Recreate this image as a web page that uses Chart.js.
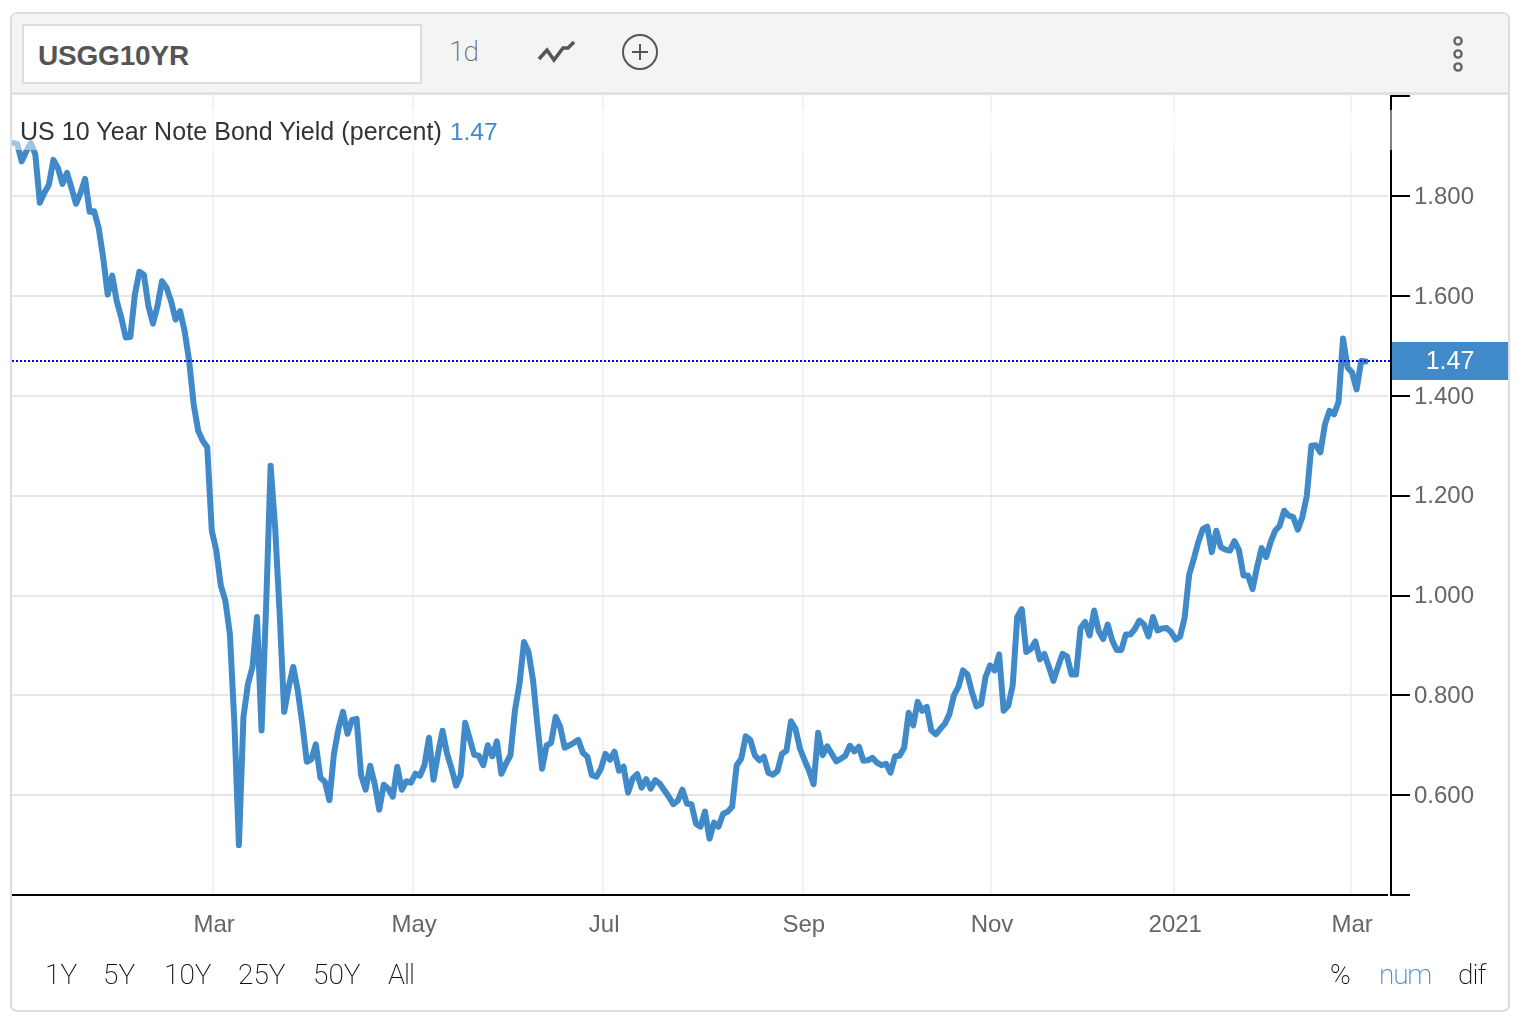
<!DOCTYPE html>
<html>
<head>
<meta charset="utf-8">
<title>USGG10YR</title>
<script src="https://cdn.jsdelivr.net/npm/chart.js@4/dist/chart.umd.min.js"></script>
<style>
html, body { margin: 0; padding: 0; background: #fff; width: 1518px; height: 1018px; overflow: hidden; }
body { font-family: "Liberation Sans", sans-serif; position: relative; }
#myChart { position: absolute; left: 0; top: 0; }
#card { position: absolute; left: 10px; top: 12px; width: 1496px; height: 996px; border: 2px solid #ddd; border-radius: 7px; }
#toolbar { position: absolute; left: 12px; top: 14px; width: 1496px; height: 78px; background: #f4f4f4; border-bottom: 3px solid #e2e2e2; border-radius: 6px 6px 0 0; }
#symbol { position: absolute; left: 22px; top: 24px; width: 396px; height: 56px; background: #fff; border: 2px solid #ddd; font-size: 28px; font-weight: bold; color: #555; line-height: 60px; text-indent: 14px; letter-spacing: -0.2px; }
.txt { position: absolute; white-space: nowrap; line-height: 1; }
.thin { font-family: Roboto, "Liberation Sans", sans-serif; font-weight: 200; font-size: 28px; color: #111; }
#legend { left: 20px; top: 119px; font-size: 25px; letter-spacing: 0.06px; color: #333; }
#legend span { color: #418ac9; font-size: 24.5px; letter-spacing: 0; margin-left: 1px; }
svg { position: absolute; left: 0; top: 0; }
</style>
</head>
<body>
<canvas id="myChart" width="1518" height="1018"></canvas>
<div id="card"></div>
<div id="toolbar"></div>
<div id="symbol">USGG10YR</div>
<div class="txt thin" style="left:449px;top:38px;color:#666;letter-spacing:-1px">1d</div>
<svg width="1518" height="1018">
  <polyline points="539,59 547,50 554,60 563,48 568,48 574,42" fill="none" stroke="#555" stroke-width="3.5"/>
  <circle cx="640" cy="52" r="17" fill="none" stroke="#555" stroke-width="2"/>
  <path d="M632 52H648M640 44V60" stroke="#555" stroke-width="2"/>
  <circle cx="1458" cy="41" r="3.6" fill="none" stroke="#666" stroke-width="2.4"/>
  <circle cx="1458" cy="54" r="3.6" fill="none" stroke="#666" stroke-width="2.4"/>
  <circle cx="1458" cy="67" r="3.6" fill="none" stroke="#666" stroke-width="2.4"/>
</svg>
<div class="txt" id="legend">US 10 Year Note Bond Yield (percent) <span>1.47</span></div>
<div class="txt thin" style="left:45px;top:961px">1Y</div>
<div class="txt thin" style="left:103px;top:961px">5Y</div>
<div class="txt thin" style="left:164px;top:961px">10Y</div>
<div class="txt thin" style="left:238px;top:961px">25Y</div>
<div class="txt thin" style="left:313px;top:961px">50Y</div>
<div class="txt thin" style="left:388px;top:961px;letter-spacing:-1px">All</div>
<div class="txt thin" style="left:1330px;top:961px">%</div>
<div class="txt thin" style="left:1379px;top:961px;color:#418ac9;letter-spacing:-1.2px">num</div>
<div class="txt thin" style="left:1458px;top:961px;letter-spacing:-1px">dif</div>

<script>
// daily yield, one value per trading session
const yields = [
    1.907, 1.905, 1.870, 1.890, 1.907, 1.884, 1.787, 1.807, 1.823, 1.873,
    1.857, 1.825, 1.847, 1.817, 1.785, 1.807, 1.835, 1.769, 1.770, 1.737,
    1.677, 1.603, 1.641, 1.590, 1.557, 1.517, 1.518, 1.603, 1.649, 1.643,
    1.580, 1.545, 1.580, 1.630, 1.617, 1.590, 1.553, 1.570, 1.530, 1.470,
    1.383, 1.330, 1.310, 1.297, 1.130, 1.090, 1.020, 0.990, 0.923, 0.744,
    0.500, 0.757, 0.823, 0.857, 0.957, 0.730, 0.977, 1.260, 1.137, 0.964,
    0.767, 0.817, 0.857, 0.810, 0.744, 0.667, 0.672, 0.702, 0.635, 0.627,
    0.590, 0.683, 0.733, 0.767, 0.723, 0.751, 0.753, 0.640, 0.611, 0.659,
    0.623, 0.571, 0.621, 0.613, 0.597, 0.657, 0.611, 0.628, 0.625, 0.643,
    0.639, 0.660, 0.715, 0.631, 0.683, 0.729, 0.683, 0.653, 0.619, 0.640,
    0.745, 0.713, 0.681, 0.679, 0.660, 0.700, 0.678, 0.708, 0.643, 0.663,
    0.680, 0.770, 0.823, 0.907, 0.887, 0.830, 0.737, 0.653, 0.700, 0.705,
    0.757, 0.737, 0.695, 0.700, 0.705, 0.711, 0.685, 0.677, 0.640, 0.637,
    0.653, 0.683, 0.671, 0.687, 0.649, 0.657, 0.605, 0.633, 0.642, 0.615,
    0.632, 0.613, 0.630, 0.623, 0.610, 0.597, 0.582, 0.589, 0.611, 0.583,
    0.582, 0.543, 0.537, 0.567, 0.513, 0.545, 0.537, 0.563, 0.567, 0.577,
    0.660, 0.673, 0.718, 0.711, 0.680, 0.670, 0.677, 0.645, 0.641, 0.648,
    0.683, 0.689, 0.748, 0.733, 0.693, 0.670, 0.649, 0.622, 0.725, 0.680,
    0.698, 0.683, 0.668, 0.673, 0.679, 0.699, 0.688, 0.697, 0.669, 0.670,
    0.675, 0.665, 0.660, 0.663, 0.645, 0.678, 0.679, 0.695, 0.765, 0.740,
    0.787, 0.769, 0.777, 0.730, 0.722, 0.733, 0.743, 0.762, 0.800, 0.817,
    0.850, 0.842, 0.806, 0.778, 0.782, 0.837, 0.860, 0.850, 0.882, 0.769,
    0.779, 0.820, 0.957, 0.973, 0.887, 0.893, 0.908, 0.872, 0.883, 0.857,
    0.829, 0.857, 0.883, 0.878, 0.842, 0.842, 0.935, 0.947, 0.920, 0.970,
    0.929, 0.913, 0.942, 0.910, 0.891, 0.891, 0.922, 0.922, 0.933, 0.950,
    0.942, 0.918, 0.957, 0.930, 0.934, 0.935, 0.927, 0.912, 0.918, 0.956,
    1.042, 1.073, 1.107, 1.133, 1.138, 1.087, 1.130, 1.097, 1.092, 1.090,
    1.109, 1.091, 1.040, 1.040, 1.013, 1.057, 1.095, 1.077, 1.107, 1.130,
    1.140, 1.170, 1.160, 1.157, 1.132, 1.157, 1.200, 1.300, 1.301, 1.287,
    1.343, 1.370, 1.363, 1.388, 1.515, 1.457, 1.447, 1.413, 1.470, 1.469
];

// month labels and the session they fall on
const monthLabels = ['Mar', 'May', 'Jul', 'Sep', 'Nov', '2021', 'Mar'];
const monthSessions = [44.3, 88.5, 130.5, 174.6, 216.2, 256.7, 295.8];

const yTicks = [0.4, 0.6, 0.8, 1.0, 1.2, 1.4, 1.6, 1.8, 2.0];
const yTickLabels = ['', '0.600', '0.800', '1.000', '1.200', '1.400', '1.600', '1.800', ''];

const lastYield = 1.47;
const xMin = -0.15;
const xMax = 304.6;
const azul = '#418ac9';

// white band behind the legend, price tag on the axis
const extras = {
    id: 'extras',
    beforeDatasetsDraw(chart) {
        const c = chart.ctx;
        c.save();
        c.fillStyle = '#fff';
        c.fillRect(1388, 95, 2, 802);
        c.restore();
    },
    afterDatasetsDraw(chart) {
        const c = chart.ctx;
        const y = chart.scales.y.getPixelForValue(lastYield);
        c.save();
        c.fillStyle = 'rgba(255,255,255,0.5)';
        c.fillRect(12, 110, 1380, 40);
        c.fillStyle = azul;
        c.fillRect(1392, y - 19, 116, 38);
        c.fillStyle = '#fff';
        c.font = '25px "Liberation Sans"';
        c.textAlign = 'center';
        c.textBaseline = 'middle';
        c.fillText(lastYield.toFixed(2), 1450, y + 1);
        c.restore();
    }
};

const ctx = document.getElementById('myChart').getContext('2d');

const chart = new Chart(ctx, {
    type: 'line',
    plugins: [extras],
    data: {
        datasets: [
            {
                data: [{ x: xMin, y: lastYield }, { x: xMax, y: lastYield }],
                borderColor: '#0000ff',
                borderWidth: 2,
                borderDash: [2, 2],
                pointRadius: 0
            },
            {
                data: yields.map((v, i) => ({ x: i, y: v })),
                borderColor: azul,
                borderWidth: 6,
                borderJoinStyle: 'round',
                borderCapStyle: 'round',
                pointRadius: 0,
                tension: 0
            }
        ]
    },
    options: {
        responsive: false,
        animation: false,
        layout: { padding: { left: 12, top: 95, right: 0, bottom: 0 } },
        plugins: { legend: { display: false }, tooltip: { enabled: false } },
        scales: {
            x: {
                type: 'linear',
                min: xMin,
                max: xMax,
                afterFit: (s) => { s.height = 123; },
                afterBuildTicks: (s) => { s.ticks = monthSessions.map(v => ({ value: v })); },
                grid: { color: '#eef2f7', lineWidth: 2, drawTicks: false },
                border: { color: '#000', width: 2 },
                ticks: {
                    autoSkip: false,
                    maxRotation: 0,
                    padding: 16,
                    labelOffset: 1,
                    color: '#666',
                    font: { family: 'Liberation Sans', size: 24 },
                    callback: (v) => monthLabels[monthSessions.indexOf(v)]
                }
            },
            y: {
                position: 'right',
                min: 0.4,
                max: 2.003,
                afterFit: (s) => { s.width = 127; },
                afterBuildTicks: (s) => { s.ticks = yTicks.map(v => ({ value: v })); },
                grid: {
                    color: (c) => (c.tick.value === 0.4 || c.tick.value === 2.0) ? 'transparent' : '#e6e6e6',
                    lineWidth: 2,
                    tickColor: '#000',
                    tickWidth: 2,
                    tickLength: 19
                },
                border: { color: '#000', width: 2 },
                ticks: {
                    padding: 4,
                    labelOffset: 1,
                    color: '#666',
                    font: { family: 'Liberation Sans', size: 24 },
                    callback: (v) => yTickLabels[yTicks.indexOf(v)]
                }
            }
        }
    }
});
</script>
</body>
</html>
